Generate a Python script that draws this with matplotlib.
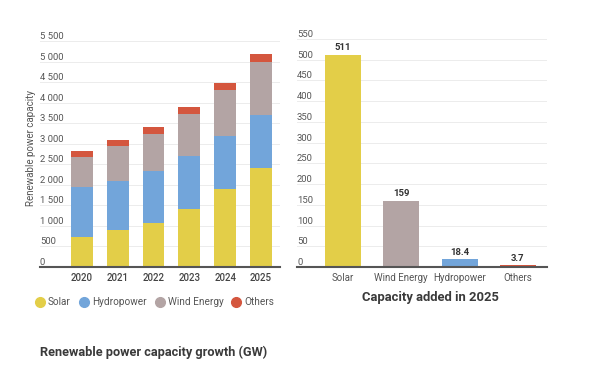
import matplotlib.pyplot as plt
from matplotlib.lines import Line2D
import numpy as np

plt.rcParams['font.family'] = ['Roboto', 'DejaVu Sans']

# stacked capacity per year (GW)
years = ['2020', '2021', '2022', '2023', '2024', '2025']
solar = [720, 890, 1070, 1420, 1900, 2410]
hydro = [1220, 1210, 1260, 1290, 1290, 1290]
wind = [740, 840, 910, 1020, 1110, 1290]
others = [145, 145, 165, 160, 170, 185]

# capacity added in 2025
added_cats = ['Solar', 'Wind Energy', 'Hydropower', 'Others']
added_vals = [511, 159, 18.4, 3.7]
added_labels = ['511', '159', '18.4', '3.7']

c_solar = '#E3CE48'
c_hydro = '#72A5DA'
c_wind = '#B3A4A4'
c_others = '#D4563E'

fig = plt.figure(figsize=(6, 3.69), dpi=100)

def style_axes(ax, ymax, step, fmt):
    ax.set_ylim(0, ymax)
    ticks = np.arange(0, ymax + 1, step)
    ax.set_yticks(ticks)
    ax.set_yticklabels([fmt(v) for v in ticks])
    ax.grid(axis='y', color='#ececec', linewidth=0.7)
    ax.set_axisbelow(True)
    for s in ['top', 'right', 'left']:
        ax.spines[s].set_visible(False)
    ax.spines['bottom'].set_color('#555555')
    ax.spines['bottom'].set_linewidth(1.5)
    ax.tick_params(axis='y', length=0, pad=0, labelsize=6.8, labelcolor='#555555')
    ax.tick_params(axis='x', length=0, pad=4)
    for lab in ax.get_yticklabels():
        lab.set_ha('left')
        lab.set_va('bottom')

# left chart
ax1 = fig.add_axes([40 / 600, 102 / 369, 240 / 600, 226 / 369])
x = np.arange(len(years))
w = 0.61
b = np.zeros(len(years))
for vals, col in [(solar, c_solar), (hydro, c_hydro), (wind, c_wind), (others, c_others)]:
    ax1.bar(x, vals, w, bottom=b, color=col)
    b = b + np.array(vals)
style_axes(ax1, 5500, 500, lambda v: '{:,}'.format(int(v)).replace(',', ' '))
ax1.set_xlim(-1.17, 5.53)
ax1.set_xticks(x)
ax1.set_xticklabels(years, fontsize=7, color='#444444', fontweight='medium')
fig.text(31 / 600, 1 - 148 / 369, 'Renewable power capacity', rotation=90,
         ha='center', va='center', fontsize=7, color='#555555')

# right chart
ax2 = fig.add_axes([297 / 600, 102 / 369, 250 / 600, 228 / 369])
x2 = np.arange(len(added_cats))
ax2.bar(x2, added_vals, 0.62, color=[c_solar, c_wind, c_hydro, c_others])
style_axes(ax2, 550, 50, lambda v: str(int(v)))
ax2.set_xlim(-0.79, 3.5)
ax2.set_xticks(x2)
ax2.set_xticklabels(added_cats, fontsize=7, color='#555555')
for i in range(len(added_vals)):
    ax2.annotate(added_labels[i], (x2[i], added_vals[i]), xytext=(0, 2),
                 textcoords='offset points', ha='center', va='bottom',
                 fontsize=6.8, fontweight='bold', color='#333333')

# legend
handles = [Line2D([], [], marker='o', linestyle='', markersize=7, color=c)
           for c in [c_solar, c_hydro, c_wind, c_others]]
fig.legend(handles, ['Solar', 'Hydropower', 'Wind Energy', 'Others'],
           loc='center left', bbox_to_anchor=(25 / 600, 1 - 302 / 369), ncol=4,
           frameon=False, fontsize=7.2, handletextpad=0.2, columnspacing=0.7,
           labelcolor='#555555', handlelength=1.2)

fig.text(430 / 600, 1 - 298 / 369, 'Capacity added in 2025', ha='center', va='center',
         fontsize=9.4, fontweight='bold', color='#3a3a3a')
fig.text(40 / 600, 1 - 352 / 369, 'Renewable power capacity growth (GW)', ha='left',
         va='center', fontsize=9.2, fontweight='bold', color='#3a3a3a')

fig.savefig('out.png', dpi=100)
